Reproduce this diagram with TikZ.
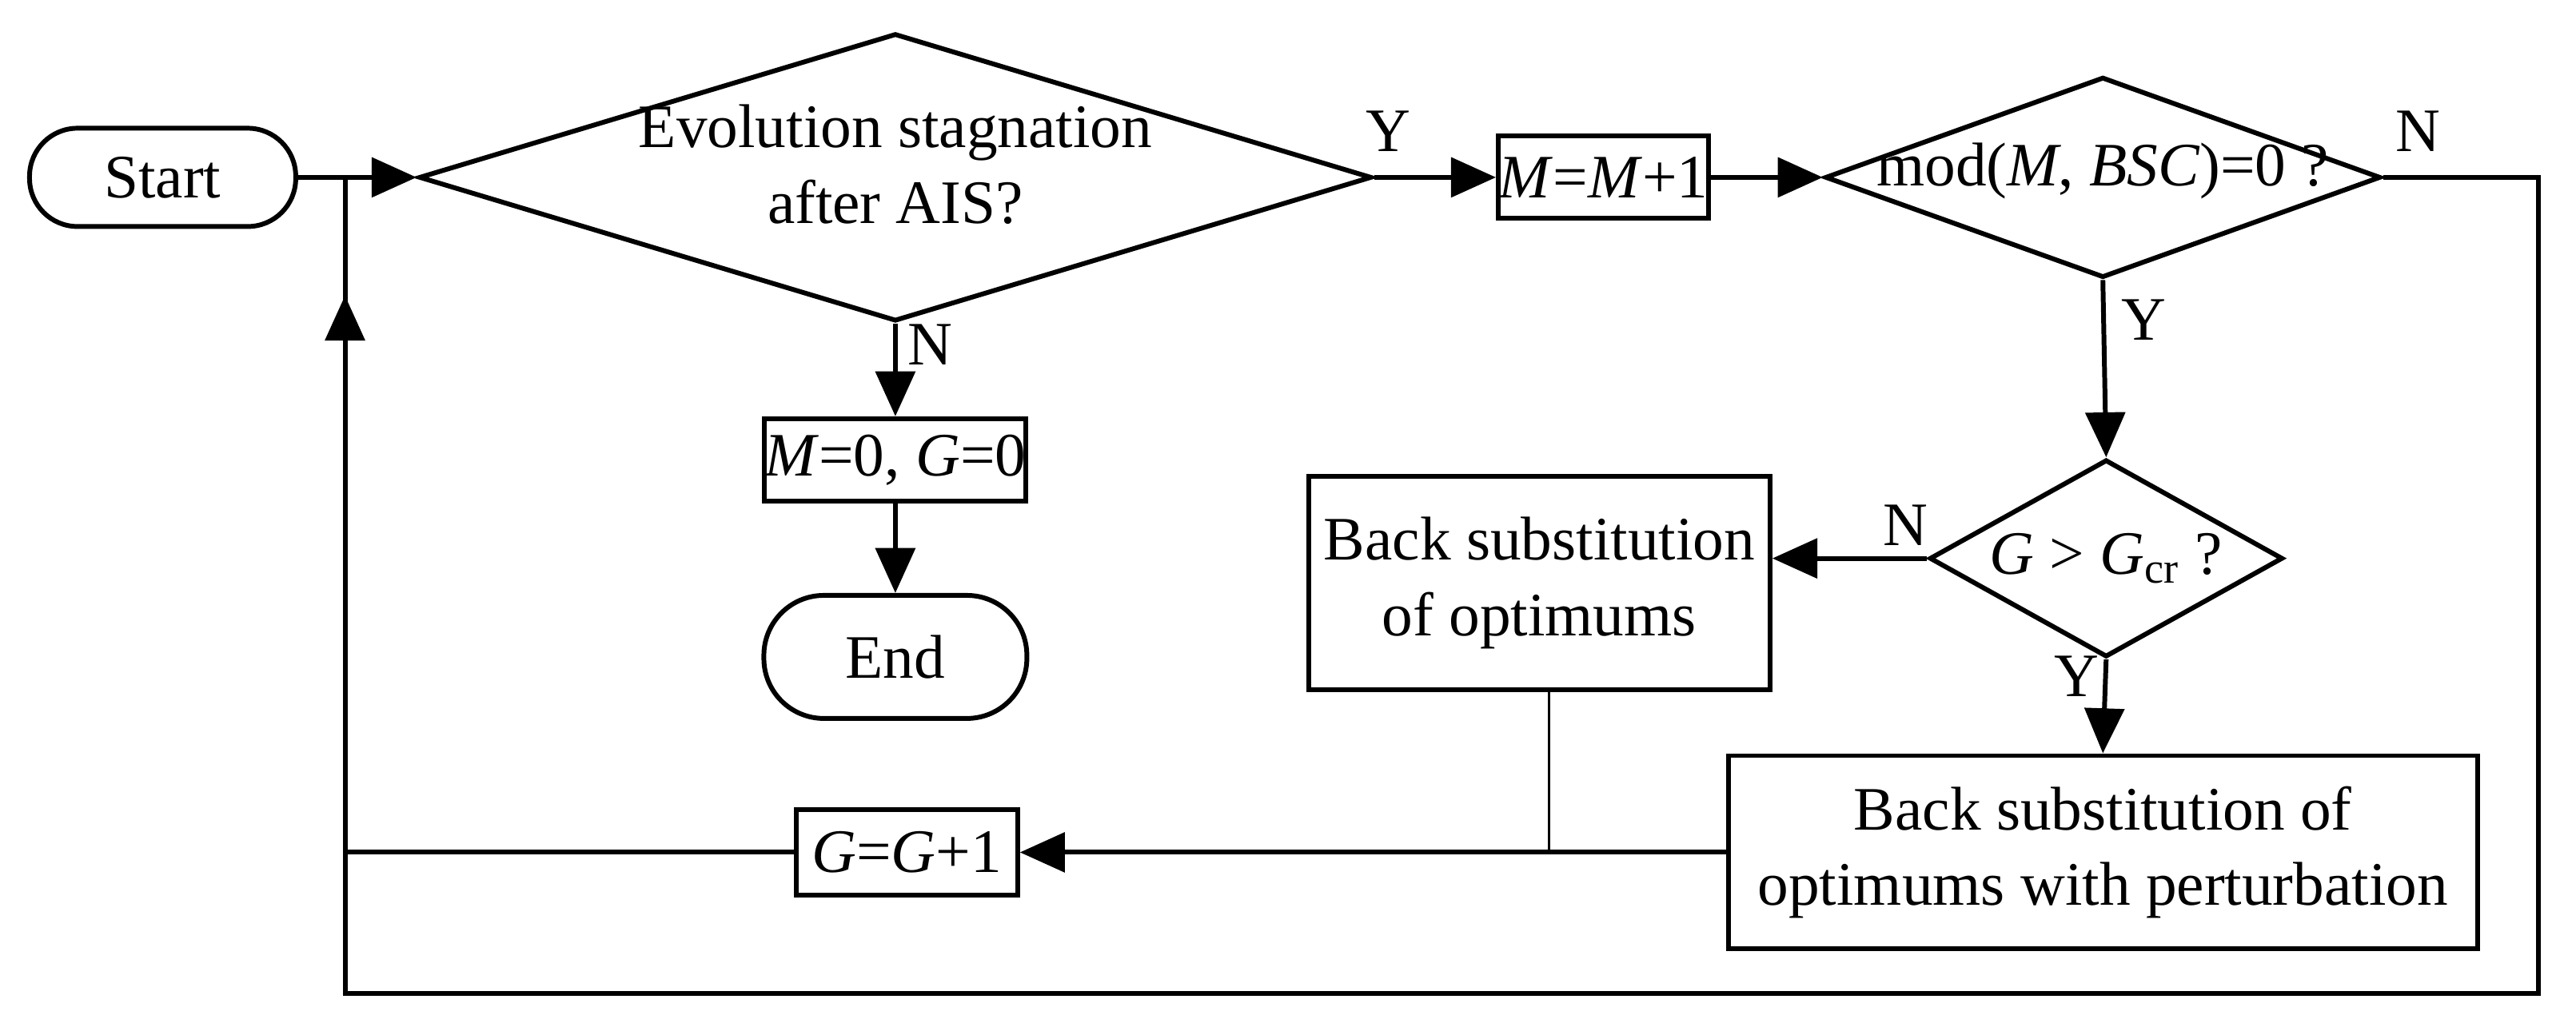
\documentclass[tikz,border=0pt]{standalone}
\usepackage{fontspec}
\setmainfont{Liberation Serif}
\usetikzlibrary{shapes.geometric,arrows.meta}
\begin{document}
\begin{tikzpicture}[x=0.02055cm,y=-0.02055cm,line width=1.7pt,
  font=\fontsize{22}{27}\selectfont,
  box/.style={draw,rectangle,inner sep=0pt,align=center},
  dia/.style={draw,diamond,inner sep=0pt},
  arr/.style={-{Triangle[length=16pt,width=14pt]}}]
\useasboundingbox (0,0) rectangle (1568,630);
\node[box,rounded corners=0.6cm,minimum width=3.33cm,minimum height=1.23cm] (start) at (99,108) {Start};
\node[dia,minimum width=11.92cm,minimum height=3.6cm] (d1) at (545,108) {};
\node[align=center] (t1) at (545,100) {Evolution stagnation\\after AIS?};
\node[box,minimum width=2.63cm,minimum height=1.03cm] (m1) at (976,108) {\textit{M}=\textit{M}+1};
\node[dia,minimum width=6.95cm,minimum height=2.51cm] (d2) at (1280,108) {};
\node (t2) at (1280,104) {mod(\textit{M}, \textit{BSC})=0 ?};
\node[dia,minimum width=4.42cm,minimum height=2.47cm] (d3) at (1282,340) {};
\node (t3) at (1282,340) {\textit{G} > \textit{G}\textsubscript{cr} ?};
\node[box,minimum width=5.77cm,minimum height=2.67cm] (b1) at (937,355) {Back substitution\\of optimums};
\node[box,minimum width=9.37cm,minimum height=2.42cm] (b2) at (1280,519) {Back substitution of\\optimums with perturbation};
\node[box,minimum width=2.77cm,minimum height=1.07cm] (g1) at (552,519) {\textit{G}=\textit{G}+1};
\node[box,minimum width=2.57cm,minimum height=1.03cm] (m0) at (545,280) {\textit{M}=0, \textit{G}=0};
\node[box,rounded corners=0.75cm,minimum width=3.29cm,minimum height=1.54cm] (end) at (545,400) {End};
\coordinate (j) at (210,108);
\coordinate (ja) at (210,180);
\coordinate (bl) at (210,605);
\coordinate (br) at (1545,605);
\coordinate (tr) at (1545,108);
\coordinate (gl) at (210,519);
\coordinate (b1b) at (943,519);
\draw[arr] (start.east) -- (d1.west);
\draw[arr] (d1.east) -- (m1.west);
\draw[arr] (m1.east) -- (d2.west);
\draw (d2.east) -- (tr) -- (br) -- (bl) -- (gl);
\draw[arr] (d2.south) -- (d3.north);
\draw[arr] (d3.west) -- (d3.west -| b1.east);
\draw[arr] (d3.south) -- (b2.north);
\draw[arr] (b2.west) -- (b2.west -| g1.east);
\draw[line width=0.8pt] (b1.south -| b1b) -- (b1b);
\draw (g1.west) -- (gl) -- (j);
\draw[arr] (gl) -- (ja);
\draw[arr] (d1.south) -- (m0.north);
\draw[arr] (m0.south) -- (end.north);
\node (ly1) at (845,80) {Y};
\node (ln2) at (1472,80) {N};
\node (ly2) at (1305,195) {Y};
\node (ln3) at (1160,320) {N};
\node (ly3) at (1264,412) {Y};
\node (ln1) at (566,210) {N};
\end{tikzpicture}
\end{document}
